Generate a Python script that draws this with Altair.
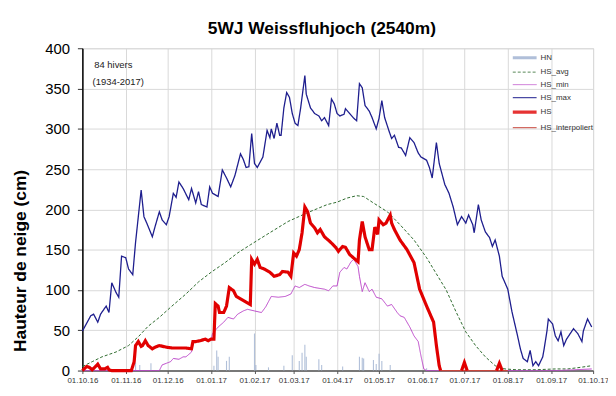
import altair as alt
import pandas as pd

START = pd.Timestamp("2016-10-01")

series_names = ["HN", "HS_avg", "HS_min", "HS_max", "HS", "HS_interpoliert"]
series_colors = ["#9db0d0", "#2f6b2f", "#bb47c8", "#1e1e8e", "#e10000", "#c8463c"]
series_dash = [[1, 0], [3, 2], [1, 0], [1, 0], [1, 0], [1, 0]]
series_width = [3, 1, 1, 1.3, 3.2, 1.2]

# days since 01.10.2016 and values (cm)
hn_days = [38, 41, 49, 94, 96, 97, 103, 105, 123, 124, 133, 144, 150, 155, 157, 159, 160,
           169, 171, 186, 198, 200, 201, 208, 210, 212, 214, 220, 246]
hn_vals = [10, 7, 9, 6, 25, 17, 12, 17, 46, 7, 4, 6, 19, 12, 22, 32, 17,
           14, 7, 5, 17, 16, 15, 13, 8, 21, 12, 7, 3]

max_days = [0, 6, 8, 11, 13, 17, 19, 21, 24, 26, 28, 31, 33, 36, 38, 42, 44, 46, 50, 52, 55, 57,
            60, 62, 65, 67, 69, 72, 76, 78, 81, 83, 85, 89, 91, 93, 97, 100, 103, 106, 109, 113,
            115, 117, 119, 121, 123, 125, 129, 132, 134, 135, 137, 139, 141, 142, 144, 146, 148,
            150, 152, 154, 156, 159, 160, 163, 166, 169, 171, 173, 176, 178, 180, 182, 184, 187,
            188, 191, 194, 196, 198, 200, 202, 205, 207, 210, 212, 214, 216, 219, 221, 223, 226,
            228, 231, 234, 237, 240, 242, 246, 248, 250, 253, 255, 259, 262, 265, 268, 271, 274,
            276, 279, 280, 283, 285, 288, 291, 293, 295, 298, 300, 304, 307, 311, 313, 315, 318,
            320, 322, 324, 326, 329, 330, 332, 333, 336, 338, 340, 342, 344, 346, 351, 354, 357,
            358, 361, 364]
max_vals = [49, 68, 70, 60, 70, 80, 72, 109, 97, 91, 142, 140, 126, 119, 159, 224, 191, 183, 166,
            179, 197, 187, 181, 191, 220, 215, 234, 226, 212, 226, 208, 222, 206, 203, 228, 220,
            216, 249, 239, 228, 242, 269, 262, 252, 253, 294, 257, 252, 265, 298, 289, 300, 288,
            307, 292, 292, 326, 345, 339, 319, 307, 304, 326, 366, 343, 326, 319, 316, 310, 314,
            304, 337, 331, 319, 316, 318, 325, 319, 313, 310, 356, 351, 329, 322, 314, 300, 313,
            335, 314, 298, 288, 292, 277, 276, 267, 289, 283, 270, 265, 261, 252, 239, 283, 257,
            231, 220, 203, 181, 191, 183, 193, 181, 171, 206, 187, 172, 165, 154, 162, 142, 117,
            101, 73, 43, 27, 15, 11, 25, 6, 11, 6, 17, 27, 49, 64, 58, 43, 37, 48, 31, 39, 52, 46,
            36, 49, 64, 54]

avg_days = [0, 7, 14, 24, 33, 40, 47, 55, 64, 74, 83, 92, 102, 111, 120, 132, 147, 161, 175, 182,
            189, 196, 201, 208, 218, 227, 237, 246, 253, 260, 267, 274, 281, 288, 295, 302, 310,
            324, 338, 347, 356, 364]
avg_vals = [5, 11, 17, 23, 31, 42, 55, 66, 80, 95, 110, 122, 134, 146, 156, 169, 185, 196, 206,
            209, 214, 217, 216, 208, 197, 181, 162, 140, 120, 100, 73, 48, 31, 17, 6, 2, 1, 1, 2,
            2, 4, 6]

min_days = [0, 55, 57, 60, 63, 65, 69, 72, 74, 78, 79, 83, 86, 89, 92, 93, 96, 97, 101, 104, 108,
            111, 115, 118, 123, 128, 131, 135, 140, 145, 149, 152, 155, 159, 162, 166, 173, 176,
            179, 182, 184, 187, 189, 192, 194, 197, 198, 200, 202, 205, 207, 210, 214, 218, 221,
            225, 227, 230, 234, 237, 240, 242, 244, 246, 340, 352, 364]
min_vals = [0, 0, 7, 9, 11, 15, 14, 17, 17, 23, 36, 36, 39, 37, 39, 46, 52, 54, 60, 66, 64, 70,
            74, 76, 74, 72, 79, 92, 91, 92, 95, 105, 103, 107, 105, 103, 101, 99, 105, 105, 122,
            128, 126, 135, 138, 129, 117, 98, 109, 98, 101, 91, 89, 80, 82, 72, 68, 66, 54, 43,
            36, 18, 2, 0, 0, 1, 2]

hs_days = [0, 3, 5, 7, 10, 11, 13, 16, 18, 19, 21, 35, 37, 38, 40, 42, 43, 45, 47, 50, 52, 55,
           60, 64, 74, 78, 79, 81, 84, 88, 90, 92, 94, 95, 97, 98, 101, 103, 105, 108, 110, 113,
           117, 120, 121, 123, 125, 127, 130, 134, 137, 141, 143, 147, 149, 151, 153, 155, 157,
           159, 161, 163, 166, 168, 170, 173, 177, 181, 183, 186, 188, 191, 195, 197, 198, 200,
           202, 205, 207, 209, 211, 212, 215, 217, 220, 221, 223, 227, 232, 237, 241, 246, 251,
           253, 255, 256]
hs_vals = [0, 5, 4, 1, 6, 8, 2, 2, 4, 1, 0, 0, 11, 31, 36, 30, 31, 37, 31, 27, 29, 31, 29, 28,
           28, 27, 36, 36, 37, 39, 37, 39, 39, 83, 80, 72, 72, 80, 103, 99, 92, 89, 85, 82, 138,
           132, 138, 128, 126, 122, 117, 119, 123, 122, 117, 146, 142, 150, 171, 203, 197, 183,
           177, 171, 175, 166, 160, 153, 148, 154, 153, 144, 138, 135, 162, 185, 166, 150, 150,
           178, 169, 187, 181, 183, 193, 183, 175, 162, 150, 134, 101, 80, 60, 31, 6, 0]
hs_spike1_days = [271, 273, 275]
hs_spike1_vals = [0, 10, 0]
hs_spike2_days = [296, 298, 300]
hs_spike2_vals = [0, 9, 0]

interp_days = [256, 304]
interp_vals = [0, 0]

ann_text = ["84 hivers", "(1934-2017)"]
ann_days = [8.5, 7.3]
ann_vals = [376, 355]

month_ticks = [(2016, 10), (2016, 11), (2016, 12), (2017, 1), (2017, 2), (2017, 3), (2017, 4),
               (2017, 5), (2017, 6), (2017, 7), (2017, 8), (2017, 9), (2017, 10)]


def make_df(name, days, vals, seg=0):
    return pd.DataFrame({
        "date": START + pd.to_timedelta(days, unit="D"),
        "value": vals,
        "series": name,
        "seg": seg,
    })


FONT = "Liberation Sans"

leg = alt.Legend(title=None, orient="none", legendX=448, legendY=4, symbolType="M-5,0H1",
                 symbolSize=64, labelFontSize=8, labelFont=FONT, labelColor="#333333",
                 labelOffset=2, rowPadding=3.6, padding=0, labelLimit=200)

color_enc = alt.Color("series:N", scale=alt.Scale(domain=series_names, range=series_colors),
                      legend=leg)
dash_enc = alt.StrokeDash("series:N", scale=alt.Scale(domain=series_names, range=series_dash),
                          legend=leg)
width_enc = alt.StrokeWidth("series:N",
                            scale=alt.Scale(type="ordinal", domain=series_names,
                                            range=series_width),
                            legend=leg)

x_enc = alt.X("date:T",
              scale=alt.Scale(domain=[alt.DateTime(year=2016, month=10, date=1),
                                      alt.DateTime(year=2017, month=10, date=1)]),
              axis=alt.Axis(values=[alt.DateTime(year=y, month=m, date=1) for y, m in month_ticks],
                            format="%d.%m.%y", labelFontSize=8, labelFont=FONT,
                            labelColor="#333333", tickSize=3, labelPadding=3, title=None,
                            domainColor="#555555", domainWidth=1.5, tickColor="#555555",
                            gridColor="#d9d9d9", labelFlush=False, labelOverlap=False))
y_enc = alt.Y("value:Q",
              scale=alt.Scale(domain=[0, 400], nice=False),
              axis=alt.Axis(values=list(range(0, 401, 50)), title="Hauteur de neige (cm)",
                            titleFontSize=17.5, titleFontWeight="bold", titleFont=FONT,
                            titleColor="black", titleX=-57, titleY=214,
                            titleBaseline="alphabetic", labelFontSize=15, labelFont=FONT,
                            labelColor="black", labelPadding=8, tickSize=5, tickColor="#333333",
                            domainColor="black", domainWidth=1.5, gridColor="#d9d9d9"))

hn_layer = alt.Chart(make_df("HN", hn_days, hn_vals)).mark_rule(opacity=0.8).encode(
    x=x_enc, y=y_enc, y2=alt.datum(0), color=color_enc, strokeWidth=alt.value(1.1))


def line_layer(df):
    return alt.Chart(df).mark_line().encode(
        x=x_enc, y=y_enc, color=color_enc, strokeDash=dash_enc, strokeWidth=width_enc,
        detail="seg:N")


avg_layer = line_layer(make_df("HS_avg", avg_days, avg_vals))
max_layer = line_layer(make_df("HS_max", max_days, max_vals))
min_layer = line_layer(make_df("HS_min", min_days, min_vals))
interp_layer = line_layer(make_df("HS_interpoliert", interp_days, interp_vals))
hs_layer = line_layer(pd.concat([
    make_df("HS", hs_days, hs_vals, 0),
    make_df("HS", hs_spike1_days, hs_spike1_vals, 1),
    make_df("HS", hs_spike2_days, hs_spike2_vals, 2),
]))

ann_df = pd.DataFrame({"date": START + pd.to_timedelta(ann_days, unit="D"),
                       "value": ann_vals, "label": ann_text})
ann_layer = alt.Chart(ann_df).mark_text(align="left", baseline="alphabetic", fontSize=9.5,
                                        font=FONT, color="#222222").encode(
    x=x_enc, y=y_enc, text="label:N")

chart = alt.layer(hn_layer, avg_layer, max_layer, min_layer, interp_layer, hs_layer,
                  ann_layer).properties(
    width=515, height=325,
    title=alt.TitleParams(text="5WJ Weissfluhjoch (2540m)", fontSize=17.5, fontWeight="bold",
                          font=FONT, color="black", anchor="middle", frame="group", dx=-16,
                          offset=4),
    autosize=alt.AutoSizeParams(type="none"),
    padding={"left": 75, "top": 39, "right": 15, "bottom": 14},
).configure_view(stroke="#555555", strokeWidth=1.5).configure(font=FONT)

chart.save("out.html", embed_options={"renderer": "svg", "actions": False})
